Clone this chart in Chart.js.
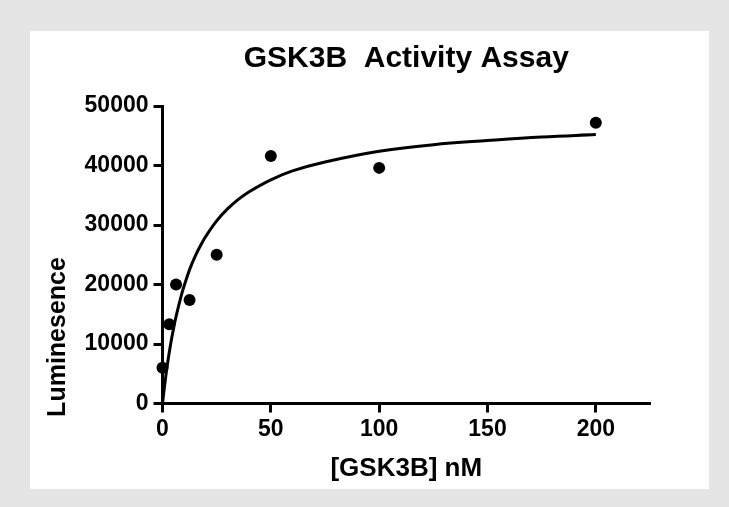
<!DOCTYPE html>
<html>
<head>
<meta charset="utf-8">
<script src="https://cdn.jsdelivr.net/npm/chart.js@4"></script>
<style>
    body { margin: 0; background: #e5e5e5; width: 729px; height: 507px; overflow: hidden; }
    #panel { position: absolute; left: 30px; top: 31px; width: 679px; height: 458px; background: #fff; }
</style>
</head>
<body>
<div id="panel"><canvas id="myChart" width="679" height="458"></canvas></div>
<script>
var concentration = [0, 3.125, 6.25, 12.5, 25, 50, 100, 200]
var luminescence = [6000, 13300, 20000, 17400, 25000, 41600, 39600, 47200]
// fitted curve
var fitX = [0, 1, 2, 3, 4, 5, 6, 7.5, 9, 10, 12.5, 15, 17.5, 20, 25, 30, 35, 40, 50, 60, 75, 100, 125, 150, 175, 200]
var fitY = [0, 3100, 5900, 8300, 10500, 12400, 14200, 16500, 18600, 19800, 22500, 24700, 26500, 28100, 30700, 32700, 34300, 35600, 37600, 39100, 40600, 42400, 43500, 44200, 44800, 45200]
var xTicks = [0, 50, 100, 150, 200]
var yTicks = [0, 10000, 20000, 30000, 40000, 50000]
var chartTitle = 'GSK3B  Activity Assay'
var xTitle = '[GSK3B] nM'
var yTitle = 'Luminesence'

var fontName = '"Liberation Sans", Arial, sans-serif'

diagram()

function diagram() {
    const ctx = document.getElementById('myChart');

    var titles = {
        id: 'titles',
        afterDraw(chart) {
            const c = chart.ctx;
            const area = chart.chartArea;
            c.save();
            c.fillStyle = '#000';
            c.font = 'bold 30px ' + fontName;
            c.textAlign = 'center';
            c.textBaseline = 'alphabetic';
            c.fillText(chartTitle, (area.left + area.right) / 2, 36);
            c.translate(35, 306);
            c.rotate(-Math.PI / 2);
            c.font = 'bold 25px ' + fontName;
            c.fillText(yTitle, 0, 0);
            c.restore();
        }
    }

    new Chart(ctx, {
        type: 'scatter',
        data: {
            datasets: [{
                label: 'data',
                data: concentration.map((x, i) => ({ x: x, y: luminescence[i] })),
                backgroundColor: '#000',
                borderWidth: 0,
                pointRadius: 6,
                clip: false
            }, {
                label: 'fit',
                data: fitX.map((x, i) => ({ x: x, y: fitY[i] })),
                showLine: true,
                borderColor: '#000',
                borderWidth: 3,
                pointRadius: 0,
                tension: 0.4,
                clip: false
            }]
        },
        options: {
            responsive: false,
            animation: false,
            layout: { padding: { top: 75, right: 59, left: 0, bottom: 0 } },
            plugins: {
                legend: { display: false },
                tooltip: { enabled: false }
            },
            scales: {
                x: {
                    min: 0,
                    max: 225,
                    afterBuildTicks: s => { s.ticks = xTicks.map(v => ({ value: v })) },
                    afterFit: s => { s.height = 85.5 },
                    ticks: {
                        color: '#000',
                        font: { family: fontName, size: 23, weight: 'bold' },
                        padding: 3,
                        callback: v => String(v)
                    },
                    grid: { drawOnChartArea: false, tickLength: 9, tickWidth: 3, tickColor: '#000' },
                    border: { color: '#000', width: 3 },
                    title: {
                        display: true,
                        text: xTitle,
                        color: '#000',
                        font: { family: fontName, size: 26, weight: 'bold' },
                        padding: { top: 0, bottom: 5 }
                    }
                },
                y: {
                    min: 0,
                    max: 50000,
                    afterBuildTicks: s => { s.ticks = yTicks.map(v => ({ value: v })) },
                    afterFit: s => { s.width = 132.5 },
                    ticks: {
                        color: '#000',
                        font: { family: fontName, size: 23, weight: 'bold' },
                        padding: 5,
                        callback: v => String(v)
                    },
                    grid: { drawOnChartArea: false, tickLength: 9, tickWidth: 3, tickColor: '#000' },
                    border: { color: '#000', width: 3 }
                }
            }
        },
        plugins: [titles]
    });
}
</script>
</body>
</html>
